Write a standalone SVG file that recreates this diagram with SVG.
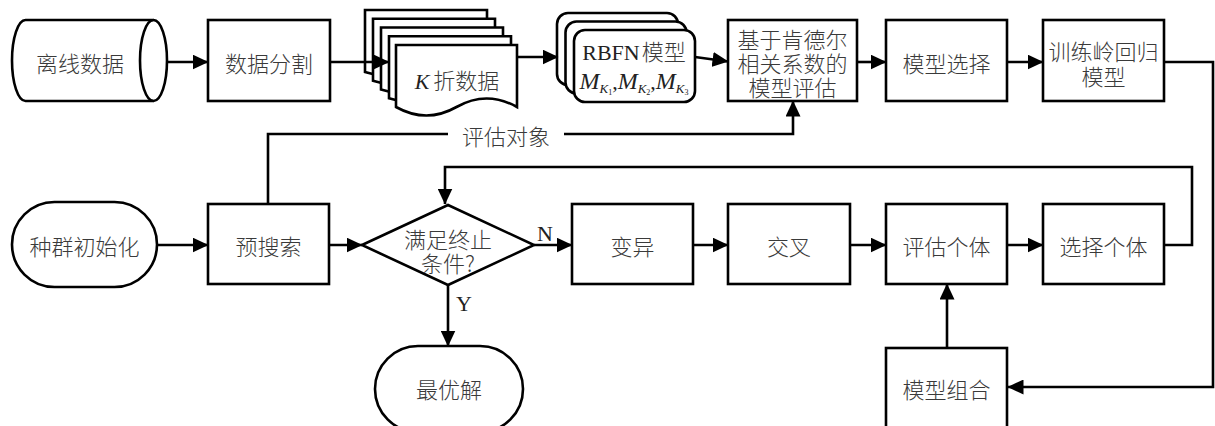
<svg xmlns="http://www.w3.org/2000/svg" width="1215" height="426" viewBox="0 0 1215 426">
<defs>
<style>
.shape{fill:#fff;stroke:#000;stroke-width:2.6}
.edge{fill:none;stroke:#000;stroke-width:2.6}
.cn{font-family:"Noto Sans CJK SC","Noto Sans",sans-serif;font-size:22px;font-weight:300;fill:#3a3a3a;text-anchor:middle;dominant-baseline:central}
.lat{font-family:"Liberation Serif","Noto Sans CJK SC",serif;font-size:22px;fill:#222}
</style>
<marker id="arr" markerUnits="userSpaceOnUse" viewBox="0 0 16 15" markerWidth="16" markerHeight="15" refX="15.5" refY="7.5" orient="auto">
<path d="M0,0 L16,7.5 L0,15 Z" fill="#000"/>
</marker>
</defs>

<g id="n-offline">
<path class="shape" d="M25.5,20 H153.5 A13.5,40.5 0 0 1 153.5,101 H25.5 A13.5,40.5 0 0 1 25.5,20 Z"/>
<path class="edge" d="M153.5,20 A13.5,40.5 0 0 0 153.5,101"/>
<text class="cn" x="80" y="62">离线数据</text>
</g>

<g id="n-split">
<rect class="shape" x="208" y="20" width="122" height="81"/>
<text class="cn" x="269" y="62">数据分割</text>
</g>

<g id="n-kfold">
<path class="shape" d="M365,10 h122 v62 q-30.5,-9 -61,0 t-61,0 z"/>
<path class="shape" d="M373,18.75 h122 v62 q-30.5,-9 -61,0 t-61,0 z"/>
<path class="shape" d="M381,27.5 h122 v62 q-30.5,-9 -61,0 t-61,0 z"/>
<path class="shape" d="M389,36.25 h122 v62 q-30.5,-9 -61,0 t-61,0 z"/>
<path class="shape" d="M396,45 h121 v62 q-30.5,-17 -60.5,0 t-60.5,0 z"/>
<text x="457" y="89" text-anchor="middle"><tspan class="lat" font-style="italic">K</tspan><tspan class="cn" dx="4" style="dominant-baseline:auto">折数据</tspan></text>
</g>

<g id="n-rbfn">
<rect class="shape" x="557" y="13" width="121" height="72" rx="11"/>
<rect class="shape" x="565.5" y="21.5" width="121" height="72" rx="11"/>
<rect class="shape" x="574" y="30" width="121" height="72" rx="11"/>
<text x="634" y="60" text-anchor="middle"><tspan class="lat">RBFN</tspan><tspan class="cn" dx="2" style="dominant-baseline:auto">模型</tspan></text>
<text class="lat" x="634" y="89" text-anchor="middle"><tspan font-style="italic" font-size="24">M</tspan><tspan font-style="italic" font-size="13" dy="4">K</tspan><tspan font-size="8" dy="2">1</tspan><tspan dy="-6">,</tspan><tspan font-style="italic" font-size="24">M</tspan><tspan font-style="italic" font-size="13" dy="4">K</tspan><tspan font-size="8" dy="2">2</tspan><tspan dy="-6">,</tspan><tspan font-style="italic" font-size="24">M</tspan><tspan font-style="italic" font-size="13" dy="4">K</tspan><tspan font-size="8" dy="2">3</tspan></text>
</g>

<g id="n-kendall">
<rect class="shape" x="728" y="20" width="129" height="81"/>
<text class="cn" x="792.5" y="38">基于肯德尔</text>
<text class="cn" x="792.5" y="62">相关系数的</text>
<text class="cn" x="792.5" y="86">模型评估</text>
</g>

<g id="n-modelsel">
<rect class="shape" x="886" y="20" width="121" height="81"/>
<text class="cn" x="946.5" y="62">模型选择</text>
</g>

<g id="n-ridge">
<rect class="shape" x="1043" y="20" width="121" height="81"/>
<text class="cn" x="1103.5" y="50">训练岭回归</text>
<text class="cn" x="1103.5" y="75">模型</text>
</g>

<g id="n-init">
<rect class="shape" x="12" y="202" width="145" height="85" rx="42.5"/>
<text class="cn" x="84.5" y="245">种群初始化</text>
</g>

<g id="n-presearch">
<rect class="shape" x="208" y="204" width="121" height="80"/>
<text class="cn" x="268.5" y="245">预搜索</text>
</g>

<g id="n-cond">
<path class="shape" d="M362,245 L448,205 L534,245 L448,285 Z"/>
<text class="cn" x="448" y="238">满足终止</text>
<text class="cn" x="448" y="262">条件?</text>
</g>

<g id="n-mutate">
<rect class="shape" x="572" y="204" width="121" height="80"/>
<text class="cn" x="632.5" y="245">变异</text>
</g>

<g id="n-cross">
<rect class="shape" x="728" y="204" width="122" height="80"/>
<text class="cn" x="789" y="245">交叉</text>
</g>

<g id="n-eval">
<rect class="shape" x="886" y="204" width="121" height="80"/>
<text class="cn" x="946.5" y="245">评估个体</text>
</g>

<g id="n-selind">
<rect class="shape" x="1043" y="204" width="121" height="80"/>
<text class="cn" x="1103.5" y="245">选择个体</text>
</g>

<g id="n-opt">
<rect class="shape" x="375" y="346" width="148" height="86" rx="43"/>
<text class="cn" x="449" y="388">最优解</text>
</g>

<g id="n-combine">
<rect class="shape" x="886" y="348" width="121" height="92"/>
<text class="cn" x="946.5" y="388">模型组合</text>
</g>

<g id="connectors">
<path class="edge" marker-end="url(#arr)" d="M167,62 H208"/>
<path class="edge" marker-end="url(#arr)" d="M330,62 H389"/>
<path class="edge" marker-end="url(#arr)" d="M517,57 H558"/>
<path class="edge" marker-end="url(#arr)" d="M695,57 L728,61.5"/>
<path class="edge" marker-end="url(#arr)" d="M857,62 H886"/>
<path class="edge" marker-end="url(#arr)" d="M1007,62 H1043"/>
<path class="edge" marker-end="url(#arr)" d="M1164,62 H1213 V387 H1008"/>
<path class="edge" marker-end="url(#arr)" d="M157,245 H208"/>
<path class="edge" marker-end="url(#arr)" d="M329,245 H362"/>
<path class="edge" marker-end="url(#arr)" d="M534,245 H572"/>
<path class="edge" marker-end="url(#arr)" d="M693,245 H728"/>
<path class="edge" marker-end="url(#arr)" d="M850,245 H886"/>
<path class="edge" marker-end="url(#arr)" d="M1007,245 H1043"/>
<path class="edge" marker-end="url(#arr)" d="M1164,245 H1192 V167 H445 V204"/>
<path class="edge" marker-end="url(#arr)" d="M448,285 V346"/>
<path class="edge" marker-end="url(#arr)" d="M947,348 V284"/>
<path class="edge" marker-end="url(#arr)" d="M268,204 V134 H793 V101"/>
<rect x="448" y="122" width="116" height="26" fill="#fff"/>
<text class="cn" x="506" y="135">评估对象</text>
<text class="lat" x="545" y="241" text-anchor="middle" font-size="20">N</text>
<text class="lat" x="464" y="311" text-anchor="middle" font-size="20">Y</text>
</g>
</svg>
